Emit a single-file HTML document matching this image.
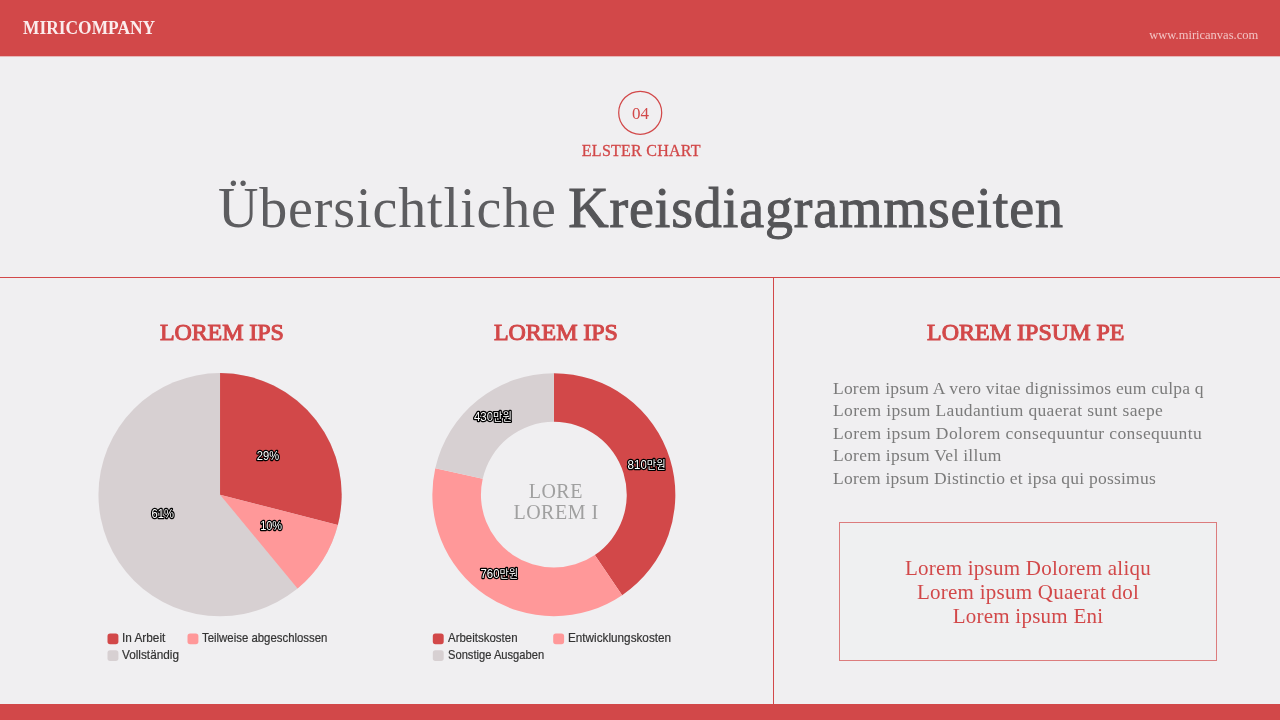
<!DOCTYPE html>
<html lang="de">
<head>
<meta charset="utf-8">
<title>Übersichtliche Kreisdiagrammseiten</title>
<style>
html,body{margin:0;padding:0;}
body{width:1280px;height:720px;overflow:hidden;background:#f0eff1;font-family:"Liberation Serif","Noto Serif CJK KR",serif;position:relative;}
.abs{position:absolute;white-space:nowrap;line-height:1;}
.topbar{position:absolute;left:0;top:0;width:1280px;height:56px;background:#d24849;}
.botbar{position:absolute;left:0;top:704px;width:1280px;height:16px;background:#d24849;}
.hline{position:absolute;left:0;top:277px;width:1280px;height:1px;background:#d24849;}
.vline{position:absolute;left:773px;top:277px;width:1px;height:427px;background:#d24849;}
.red{color:#d24849;}
.ctr{transform:translateX(-50%);}
.hd{font-size:24px;color:#d24849;-webkit-text-stroke:1px #d24849;}
.leg{font-family:"Liberation Sans",sans-serif;font-size:12.2px;color:#333;transform-origin:0 0;-webkit-text-stroke:0.2px #333;}
.lab{font-family:"Liberation Sans","Noto Sans CJK KR",sans-serif;font-size:12.5px;fill:#fff;stroke:#000;stroke-width:2.7px;paint-order:stroke fill;stroke-linejoin:round;text-anchor:middle;}
.labk{font-size:11px;}
.labk tspan{font-size:12.4px;}
</style>
</head>
<body>
<div class="topbar"></div>
<div class="botbar"></div>
<div class="hline"></div>
<div style="position:absolute;left:0;top:56px;width:1280px;height:1px;background:#e6b8b9;"></div>
<div class="vline"></div>

<div id="brand" class="abs" style="left:23px;top:19.2px;font-size:18.6px;font-weight:bold;color:#fbecec;transform:scaleX(0.936);transform-origin:0 0;">MIRICOMPANY</div>
<div id="url" class="abs" style="left:1149.3px;top:28.5px;font-size:12.5px;color:#f3c4c4;">www.miricanvas.com</div>

<div id="num" class="abs red ctr" style="left:640.4px;top:105.4px;font-size:17px;">04</div>
<div id="sub" class="abs red ctr" style="left:641.3px;top:142.7px;font-size:16px;letter-spacing:0.25px;-webkit-text-stroke:0.3px #d24849;">ELSTER CHART</div>

<div id="title" class="abs" style="left:217.9px;top:180px;font-size:56px;color:#555558;"><span id="t1" style="letter-spacing:0.88px;color:#5d5d60;">Übersichtliche</span><span style="letter-spacing:-2.6px;"> </span><span id="t2" style="letter-spacing:0.88px;-webkit-text-stroke:1px #555558;">Kreisdiagrammseiten</span></div>

<div id="h1" class="abs hd ctr" style="left:221.8px;top:319.5px;letter-spacing:-0.1px;">LOREM IPS</div>
<div id="h2" class="abs hd ctr" style="left:555.8px;top:319.5px;letter-spacing:-0.1px;">LOREM IPS</div>
<div id="h3" class="abs hd ctr" style="left:1025.8px;top:319.5px;">LOREM IPSUM PE</div>

<svg class="abs" style="left:0;top:0;" width="1280" height="720" viewBox="0 0 1280 720">
  <circle cx="640.2" cy="112.75" r="21.5" fill="none" stroke="#d24849" stroke-width="1.25"/>
  <circle cx="220.05" cy="494.7" r="121.6" fill="#d7d0d2"/>
  <path fill="#d24849" d="M220.05 494.7L220.05 373.10A121.6 121.6 0 0 1 337.83 524.94Z"/>
  <path fill="#ff9899" d="M220.05 494.7L337.83 524.94A121.6 121.6 0 0 1 297.56 588.39Z"/>
  <path fill="#d24849" d="M553.85 373.20A121.5 121.5 0 0 1 622.14 595.19L594.83 554.99A72.9 72.9 0 0 0 553.85 421.80Z"/>
  <path fill="#ff9899" d="M622.14 595.19A121.5 121.5 0 0 1 435.28 468.20L482.71 478.80A72.9 72.9 0 0 0 594.83 554.99Z"/>
  <path fill="#d7d0d2" d="M435.28 468.20A121.5 121.5 0 0 1 553.85 373.20L553.85 421.80A72.9 72.9 0 0 0 482.71 478.80Z"/>
  <rect x="107.5" y="633.5" width="10.9" height="10.7" rx="2.6" fill="#d24849"/>
  <rect x="187.5" y="633.5" width="10.9" height="10.7" rx="2.6" fill="#ff9899"/>
  <rect x="107.5" y="650.2" width="10.9" height="10.7" rx="2.6" fill="#d7d0d2"/>
  <rect x="432.8" y="633.5" width="10.9" height="10.7" rx="2.6" fill="#d24849"/>
  <rect x="553.2" y="633.5" width="10.9" height="10.7" rx="2.6" fill="#ff9899"/>
  <rect x="432.8" y="650.2" width="10.9" height="10.7" rx="2.6" fill="#d7d0d2"/>
  <text id="q1" class="lab" x="267.9" y="459.8" textLength="22.3" lengthAdjust="spacingAndGlyphs">29%</text>
  <text id="q2" class="lab" x="271.1" y="530" textLength="21.9" lengthAdjust="spacingAndGlyphs">10%</text>
  <text id="q3" class="lab" x="162.8" y="518" textLength="22.4" lengthAdjust="spacingAndGlyphs">61%</text>
  <text id="q4" class="lab labk" x="646.6" y="468.5" textLength="38" lengthAdjust="spacingAndGlyphs"><tspan>810</tspan>만원</text>
  <text id="q5" class="lab labk" x="499.3" y="578" textLength="37.6" lengthAdjust="spacingAndGlyphs"><tspan>760</tspan>만원</text>
  <text id="q6" class="lab labk" x="492.9" y="420.8" textLength="38" lengthAdjust="spacingAndGlyphs"><tspan>430</tspan>만원</text>
</svg>

<div id="c1" class="abs ctr" style="left:555.8px;top:480.5px;font-size:20px;color:#a0a0a0;letter-spacing:0.5px;">LORE</div>
<div id="c2" class="abs ctr" style="left:556px;top:502px;font-size:20px;color:#a0a0a0;letter-spacing:0.5px;">LOREM I</div>

<div id="l1" class="abs leg" style="left:122px;top:632px;transform:scaleX(0.969);">In Arbeit</div>
<div id="l2" class="abs leg" style="left:202.4px;top:632px;transform:scaleX(0.935);">Teilweise abgeschlossen</div>
<div id="l3" class="abs leg" style="left:122px;top:648.7px;transform:scaleX(0.966);">Vollständig</div>
<div id="l4" class="abs leg" style="left:447.6px;top:632px;transform:scaleX(0.942);">Arbeitskosten</div>
<div id="l5" class="abs leg" style="left:567.9px;top:632px;transform:scaleX(0.963);">Entwicklungskosten</div>
<div id="l6" class="abs leg" style="left:447.6px;top:648.7px;transform:scaleX(0.915);">Sonstige Ausgaben</div>

<div id="para" class="abs" style="left:833px;top:376.5px;font-size:17.5px;line-height:22.65px;color:#7b7b7b;letter-spacing:0.21px;">
<div><span id="pa1">Lorem ipsum A vero vitae dignissimos eum culpa q</span></div>
<div><span id="pa2" style="letter-spacing:0.36px;">Lorem ipsum Laudantium quaerat sunt saepe</span></div>
<div><span id="pa3" style="letter-spacing:0.39px;">Lorem ipsum Dolorem consequuntur consequuntu</span></div>
<div><span id="pa4" style="letter-spacing:0.29px;">Lorem ipsum Vel illum</span></div>
<div><span id="pa5" style="letter-spacing:0.23px;">Lorem ipsum Distinctio et ipsa qui possimus</span></div>
</div>

<div class="abs" style="left:839px;top:522px;width:378px;height:139px;border:1px solid #dc7c7d;box-sizing:border-box;background:#eff0f1;"></div>
<div id="box" class="abs red" style="left:839px;width:378px;top:556px;font-size:21px;line-height:24px;text-align:center;letter-spacing:0.25px;">
<div><span id="b1">Lorem ipsum Dolorem aliqu</span></div>
<div><span id="b2">Lorem ipsum Quaerat dol</span></div>
<div><span id="b3">Lorem ipsum Eni</span></div>
</div>
</body>
</html>
